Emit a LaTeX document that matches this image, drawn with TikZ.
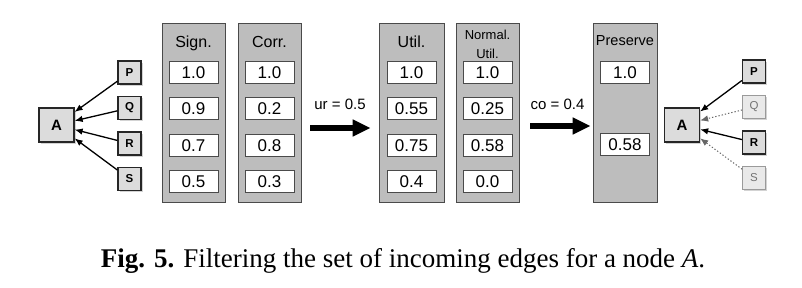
\documentclass[tikz,border=0pt]{standalone}
\usepackage{fontspec}
\setmainfont{Liberation Serif}
\setsansfont{Liberation Sans}
\usepackage{tikz}
\usetikzlibrary{arrows.meta,positioning,shadows}
\definecolor{FilterColumn}{HTML}{BDBDBD}
\definecolor{FilterFrame}{HTML}{4A4A4A}
\definecolor{FilterNode}{HTML}{DCDCDC}
\definecolor{FilterFaded}{HTML}{9A9A9A}
\definecolor{FilterFadedFill}{HTML}{E9E9E9}
\tikzset{
  measurecol/.style={draw=FilterFrame,line width=0.9pt,fill=FilterColumn,minimum width=63pt,minimum height=179pt,inner sep=0pt,anchor=north},
  valbox/.style={draw=FilterFrame,line width=0.9pt,fill=white,minimum width=49pt,minimum height=22pt,inner sep=0pt,font=\sffamily\fontsize{17}{19}\selectfont},
  colhead/.style={inner sep=0pt,anchor=base,align=center,font=\sffamily\fontsize{16}{18}\selectfont},
  vertex/.style={draw=black!85,line width=1.3pt,fill=FilterNode,minimum size=23pt,inner sep=0pt,font=\sffamily\bfseries\fontsize{11.5}{13}\selectfont,drop shadow={shadow xshift=1.5pt,shadow yshift=-1.5pt,opacity=0.35}},
  target/.style={vertex,minimum width=35pt,minimum height=34pt,font=\sffamily\bfseries\fontsize{15}{17}\selectfont},
  dropped/.style={vertex,draw=FilterFaded,line width=0.8pt,fill=FilterFadedFill,text=black!55,font=\sffamily\fontsize{11.5}{13}\selectfont},
  keepedge/.style={-{Latex[length=8pt,width=6.5pt]},line width=1.3pt,draw=black},
  dropedge/.style={keepedge,dotted,line width=1pt,draw=black!60},
  bigarrow/.style={-{Triangle[length=18pt,width=16pt]},line width=6pt,draw=black},
  steplabel/.style={inner sep=0pt,anchor=base,font=\sffamily\fontsize{15}{17}\selectfont},
  caption/.style={inner sep=0pt,anchor=base,font=\fontsize{27}{32}\selectfont}
}

\begin{document}
\begin{tikzpicture}[x=1pt,y=-1pt]
  \useasboundingbox (0,0) rectangle (802,287);

  % incoming edges before filtering
  \node[target] (a) at (56.5,125) {A};
  \node[vertex] (p) at (129.5,72.5) {P};
  \node[vertex] (q) at (129.5,108) {Q};
  \node[vertex] (r) at (129.5,143.5) {R};
  \node[vertex] (s) at (129.5,179) {S};

  \draw[keepedge] (p) -- (a);
  \draw[keepedge] (q) -- (a);
  \draw[keepedge] (r) -- (a);
  \draw[keepedge] (s) -- (a);

  % measures
  \node[measurecol] (sign) at (193.5,23) {};
  \node[measurecol] (corr) at (269.5,23) {};
  \node[colhead] (signhead) at ([yshift=-24pt]sign.north) {Sign.};
  \node[colhead] (corrhead) at ([yshift=-24pt]corr.north) {Corr.};

  \node[valbox,below=38pt of sign.north] (s1) {1.0};
  \node[valbox,below=13pt of s1] (s2) {0.9};
  \node[valbox,below=14pt of s2] (s3) {0.7};
  \node[valbox,below=13pt of s3] (s4) {0.5};
  \node[valbox,below=38pt of corr.north] (c1) {1.0};
  \node[valbox,below=13pt of c1] (c2) {0.2};
  \node[valbox,below=14pt of c2] (c3) {0.8};
  \node[valbox,below=13pt of c3] (c4) {0.3};

  \coordinate (urtail) at (310,128);
  \node[steplabel] (urlabel) at (340,109) {ur = 0.5};

  % utility
  \node[measurecol,minimum width=65pt] (util) at (411.5,23) {};
  \node[measurecol] (normal) at (487.5,23) {};
  \node[colhead] (utilhead) at ([yshift=-24pt]util.north) {Util.};
  \node[colhead,font=\sffamily\fontsize{13}{18.5}\selectfont] (normalhead) at ([yshift=-35pt]normal.north) {Normal.\\Util.};

  \node[valbox,below=38pt of util.north] (u1) {1.0};
  \node[valbox,below=13pt of u1] (u2) {0.55};
  \node[valbox,below=14pt of u2] (u3) {0.75};
  \node[valbox,below=13pt of u3] (u4) {0.4};
  \node[valbox,below=38pt of normal.north] (n1) {1.0};
  \node[valbox,below=13pt of n1] (n2) {0.25};
  \node[valbox,below=14pt of n2] (n3) {0.58};
  \node[valbox,below=13pt of n3] (n4) {0.0};

  \draw[bigarrow,shorten >=8pt] (urtail) -- (urtail -| util.west);

  \coordinate (cotail) at (530,126);
  \node[steplabel] (colabel) at (557.5,109) {co = 0.4};

  % kept edges
  \node[measurecol,minimum width=64pt] (keep) at (625,23) {};
  \node[colhead,font=\sffamily\fontsize{14.5}{17}\selectfont] (keephead) at ([yshift=-22pt]keep.north) {Preserve};
  \node[valbox,below=38pt of keep.north] (k1) {1.0};
  \node[valbox,below=49pt of k1] (k3) {0.58};

  \draw[bigarrow,shorten >=2pt] (cotail) -- (cotail -| keep.west);

  % incoming edges after filtering
  \node[target] (a2) at (682,125) {A};
  \node[vertex] (p2) at (754,71.5) {P};
  \node[dropped] (q2) at (754,107) {Q};
  \node[vertex] (r2) at (754,142.5) {R};
  \node[dropped] (s2) at (754,178) {S};

  \draw[keepedge] (p2) -- (a2);
  \draw[dropedge] (q2) -- (a2);
  \draw[keepedge] (r2) -- (a2);
  \draw[dropedge] (s2) -- (a2);

  \node[caption] (figcaption) at (403,267) {\textbf{Fig. 5.} Filtering the set of incoming edges for a node \textit{A}.};
\end{tikzpicture}
\end{document}
